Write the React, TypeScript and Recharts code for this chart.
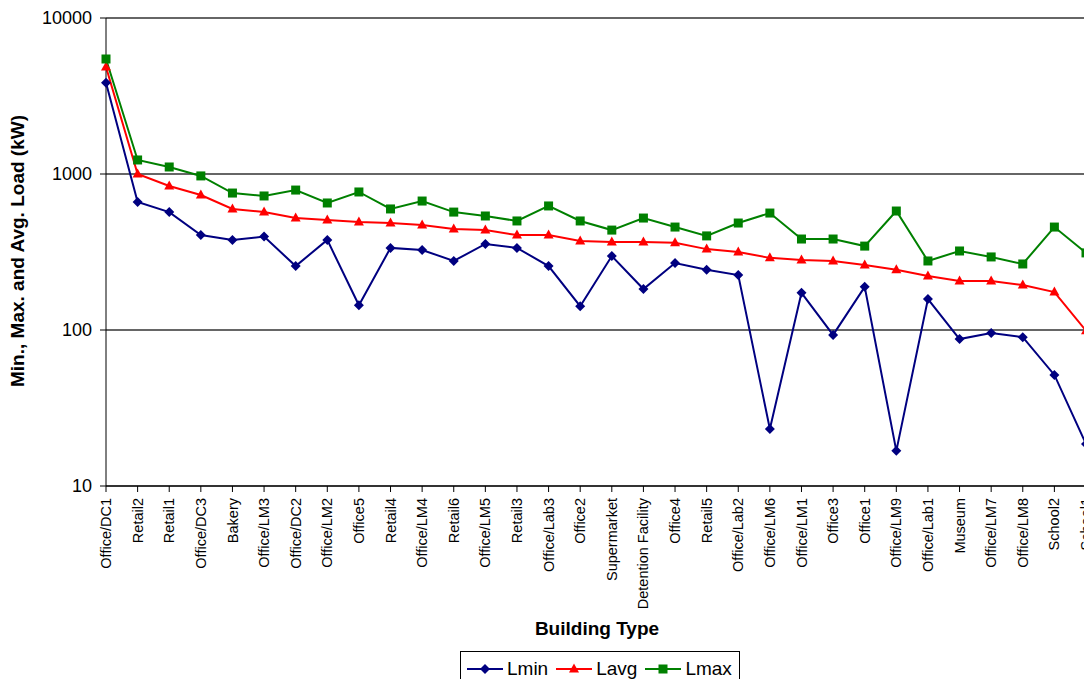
import { CartesianGrid, Line, LineChart, XAxis, YAxis } from "recharts";

const buildings = [
  "Office/DC1", "Retail2", "Retail1", "Office/DC3", "Bakery", "Office/LM3", "Office/DC2", "Office/LM2",
  "Office5", "Retail4", "Office/LM4", "Retail6", "Office/LM5", "Retail3", "Office/Lab3", "Office2",
  "Supermarket", "Detention Facility", "Office4", "Retail5", "Office/Lab2", "Office/LM6", "Office/LM1", "Office3",
  "Office1", "Office/LM9", "Office/Lab1", "Museum", "Office/LM7", "Office/LM8", "School2", "School1",
];

const lmin = [
  3850, 662, 570, 406, 378, 397, 257, 378, 144, 336, 326, 277, 356, 336, 257, 142,
  298, 183, 269, 243, 225, 23.2, 173, 93, 189, 16.8, 158, 87.5, 95.7, 90, 51.5, 18.6,
];
const lavg = [
  4850, 1000, 838, 733, 597, 570, 522, 507, 492, 485, 471, 444, 437, 406, 406, 372,
  367, 367, 362, 330, 316, 290, 281, 277, 261, 243, 222, 206, 206, 194, 175, 99,
];
const lmax = [
  5460, 1230, 1109, 972, 755, 723, 789, 652, 767, 597, 671, 570, 538, 500, 624, 500,
  437, 522, 457, 401, 485, 562, 383, 383, 345, 579, 277, 321, 294, 265, 457, 312,
];

const yTicks = [10, 100, 1000, 10000];

const data = buildings.map((name, i) => ({ name, Lmin: lmin[i], Lavg: lavg[i], Lmax: lmax[i] }));

const NAVY = "#000080";
const RED = "#ff0000";
const GREEN = "#008000";
const FONT = "'Liberation Sans', Arial, sans-serif";

const diamond = (p: any) => {
  const { cx, cy, index } = p;
  return <path key={`mn-${index}`} d={`M${cx},${cy - 5}L${cx + 5},${cy}L${cx},${cy + 5}L${cx - 5},${cy}Z`} fill={NAVY} />;
};
const triangle = (p: any) => {
  const { cx, cy, index } = p;
  return <path key={`av-${index}`} d={`M${cx},${cy - 5.5}L${cx + 5},${cy + 3.5}L${cx - 5},${cy + 3.5}Z`} fill={RED} />;
};
const square = (p: any) => {
  const { cx, cy, index } = p;
  return <rect key={`mx-${index}`} x={cx - 4.5} y={cy - 4.5} width={9} height={9} fill={GREEN} />;
};

const XTick = ({ x, y, payload }: any) => (
  <text x={x} y={y} dx={-4} dy="0.35em" transform={`rotate(-90 ${x} ${y})`} textAnchor="end" fontSize={14.5} fontFamily={FONT} fill="#000">
    {payload.value}
  </text>
);

function LegendItem({ label, color, shape }: { label: string; color: string; shape: string }) {
  return (
    <div style={{ display: "flex", alignItems: "center", marginRight: 8 }}>
      <svg width={36} height={14}>
        <line x1={0} y1={7} x2={36} y2={7} stroke={color} strokeWidth={2} />
        {shape === "diamond" && <path d="M18,2L23,7L18,12L13,7Z" fill={color} />}
        {shape === "triangle" && <path d="M18,1.5L23,10.5L13,10.5Z" fill={color} />}
        {shape === "square" && <rect x={13.5} y={2.5} width={9} height={9} fill={color} />}
      </svg>
      <span style={{ fontSize: 19, marginLeft: 4 }}>{label}</span>
    </div>
  );
}

export default function App() {
  return (
    <div style={{ position: "fixed", left: 0, top: 0, width: 1084, height: 679, overflow: "hidden", background: "#fff", fontFamily: FONT }}>
      <LineChart width={1120} height={679} data={data} margin={{ top: 18, right: 34, left: 0, bottom: 0 }}>
        <CartesianGrid vertical={false} stroke="#333" strokeWidth={1.5} />
        <XAxis
          dataKey="name"
          interval={0}
          height={193}
          tick={<XTick />}
          tickSize={6}
          stroke="#000"
        />
        <YAxis
          type="number"
          scale="log"
          domain={[10, 10000]}
          ticks={yTicks}
          allowDataOverflow
          width={106}
          tickSize={6}
          tickMargin={8}
          stroke="#000"
          tick={{ fontSize: 18, fill: "#000", fontFamily: FONT }}
        />
        <Line type="linear" dataKey="Lmin" stroke={NAVY} strokeWidth={2} dot={diamond} isAnimationActive={false} />
        <Line type="linear" dataKey="Lavg" stroke={RED} strokeWidth={2} dot={triangle} isAnimationActive={false} />
        <Line type="linear" dataKey="Lmax" stroke={GREEN} strokeWidth={2} dot={square} isAnimationActive={false} />
      </LineChart>
      <div
        style={{
          position: "absolute", left: 18, top: 251, transform: "translate(-50%, -50%) rotate(-90deg)",
          whiteSpace: "nowrap", fontSize: 19, fontWeight: "bold",
        }}
      >
        Min., Max. and Avg. Load (kW)
      </div>
      <div style={{ position: "absolute", left: 597, top: 618, transform: "translateX(-50%)", fontSize: 19, fontWeight: "bold", whiteSpace: "nowrap" }}>
        Building Type
      </div>
      <div
        style={{
          position: "absolute", left: 460, top: 651, width: 272, height: 34, border: "1px solid #000",
          display: "flex", alignItems: "center", paddingLeft: 6, boxSizing: "content-box",
        }}
      >
        <LegendItem label="Lmin" color={NAVY} shape="diamond" />
        <LegendItem label="Lavg" color={RED} shape="triangle" />
        <LegendItem label="Lmax" color={GREEN} shape="square" />
      </div>
    </div>
  );
}
